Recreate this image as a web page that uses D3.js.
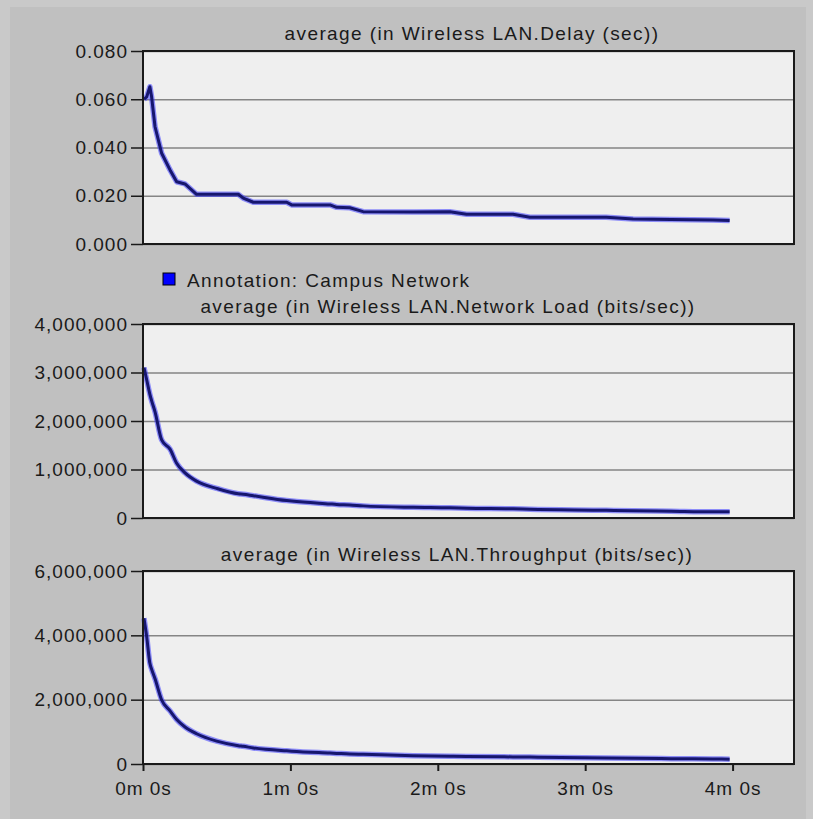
<!DOCTYPE html>
<html>
<head>
<meta charset="utf-8">
<script src="https://cdn.jsdelivr.net/npm/d3@7"></script>
<style>
  body { margin: 0; background: #c9c9c9; }
  svg { display: block; font-family: "Liberation Sans", Arial, sans-serif; }
  .chartText { fill: #1a1a1a; font-size: 19px; letter-spacing: 1px; }
  .titleText { letter-spacing: 1.4px; }
</style>
</head>
<body>
<div id="chart"></div>
<script>
var svgWidth = 813;
var svgHeight = 819;

// simulation time of each sample (seconds)
var timeSec = [0.4, 1.5, 2.8, 3.5, 4.9, 7.6, 11, 13.7, 17.1, 21.8, 30, 38.8, 40.8, 44.9,
  58.5, 60.5, 76.1, 78.8, 84.2, 89.6, 110, 124.9, 131.7, 150.6, 157.5, 188.6, 199.5, 215, 232, 238.8];

// average (in Wireless LAN.Delay (sec))
var delayValues = [0.060, 0.061, 0.0652, 0.061, 0.0486, 0.0376, 0.0307, 0.0258, 0.0249, 0.0206, 0.0206,
  0.0206, 0.019, 0.0173, 0.0173, 0.0162, 0.0162, 0.0152, 0.0150, 0.0134, 0.0133, 0.0134, 0.0123,
  0.0123, 0.0111, 0.0111, 0.0104, 0.0102, 0.0099, 0.0097];

// average (in Wireless LAN.Network Load (bits/sec))
var loadValues = [3100000, 2850000, 2550000, 2420000, 2190000, 1610000, 1420000, 1130000, 930000, 760000,
  610000, 500000, 490000, 460000, 360000, 350000, 290000, 280000, 270000, 250000, 220000, 210000,
  200000, 190000, 180000, 160000, 150000, 140000, 130000, 130000];

// average (in Wireless LAN.Throughput (bits/sec))
var throughputValues = [4530000, 3960000, 3130000, 2950000, 2650000, 1990000, 1650000, 1380000, 1150000,
  940000, 710000, 570000, 550000, 500000, 410000, 400000, 340000, 330000, 310000, 300000, 260000,
  240000, 235000, 220000, 215000, 190000, 180000, 165000, 155000, 150000];

var delayTicks = [0, 0.02, 0.04, 0.06, 0.08];
var loadTicks = [0, 1000000, 2000000, 3000000, 4000000];
var throughputTicks = [0, 2000000, 4000000, 6000000];
var timeTicks = [0, 60, 120, 180, 240];
var timeLabels = ["0m 0s", "1m 0s", "2m 0s", "3m 0s", "4m 0s"];

var panelTitles = [
  "average (in Wireless LAN.Delay (sec))",
  "average (in Wireless LAN.Network Load (bits/sec))",
  "average (in Wireless LAN.Throughput (bits/sec))"
];
var annotationLabel = "Annotation: Campus Network";

var plotLeft = 143;
var plotRight = 794;

var svg = d3.select("#chart")
  .append("svg")
  .attr("width", svgWidth)
  .attr("height", svgHeight);

// grey window panel
svg.append("rect")
  .attr("x", 10)
  .attr("y", 7)
  .attr("width", 796)
  .attr("height", svgHeight - 7)
  .attr("fill", "#c0c0c0");

// shared time scale
var xScale = d3.scaleLinear()
  .domain([0, 265])
  .range([plotLeft, plotRight]);

function drawPanel(opts) {
  var yScale = d3.scaleLinear()
    .domain([0, opts.ticks[opts.ticks.length - 1]])
    .range([opts.bottom, opts.top]);

  var g = svg.append("g");

  // plot background
  g.append("rect")
    .attr("x", plotLeft)
    .attr("y", opts.top)
    .attr("width", plotRight - plotLeft)
    .attr("height", opts.bottom - opts.top)
    .attr("fill", "#efefef");

  // gridlines
  var grid = g.append("g")
    .attr("transform", `translate(${plotLeft}, 0)`)
    .call(d3.axisLeft(yScale).tickValues(opts.ticks).tickSize(-(plotRight - plotLeft)).tickFormat(""));
  grid.select(".domain").remove();
  grid.selectAll("line").attr("stroke", "#858585").attr("stroke-width", 1.5);

  var line = d3.line()
    .x((d, i) => xScale(timeSec[i]))
    .y(d => yScale(d))
    .curve(opts.curve);

  // soft blue halo, then dark core
  g.append("path")
    .datum(opts.values)
    .attr("d", line)
    .attr("fill", "none")
    .attr("stroke", "#3c3cff")
    .attr("stroke-opacity", 0.55)
    .attr("stroke-width", 5.5)
    .attr("stroke-linejoin", "round");

  g.append("path")
    .datum(opts.values)
    .attr("d", line)
    .attr("fill", "none")
    .attr("stroke", "#16166e")
    .attr("stroke-width", 3)
    .attr("stroke-linejoin", "round");

  // frame
  g.append("rect")
    .attr("x", plotLeft)
    .attr("y", opts.top)
    .attr("width", plotRight - plotLeft)
    .attr("height", opts.bottom - opts.top)
    .attr("fill", "none")
    .attr("stroke", "#1a1a1a")
    .attr("stroke-width", 2);

  // y axis
  var yAxis = g.append("g")
    .attr("transform", `translate(${plotLeft}, 0)`)
    .call(d3.axisLeft(yScale).tickValues(opts.ticks).tickSize(12).tickPadding(3).tickFormat(opts.format));
  yAxis.select(".domain").remove();
  yAxis.attr("font-size", null).attr("font-family", null);
  yAxis.selectAll("line").attr("stroke", "#1a1a1a").attr("stroke-width", 1.5);
  yAxis.selectAll("text").classed("chartText", true).attr("fill", null);

  // title
  svg.append("text")
    .classed("chartText", true)
    .classed("titleText", true)
    .attr("x", opts.titleX)
    .attr("y", opts.titleY)
    .attr("text-anchor", "middle")
    .text(opts.title);

  return yScale;
}

drawPanel({
  top: 51, bottom: 244, values: delayValues, ticks: delayTicks,
  format: d3.format(".3f"), title: panelTitles[0], titleX: 472, titleY: 40,
  curve: d3.curveLinear
});

drawPanel({
  top: 324, bottom: 518, values: loadValues, ticks: loadTicks,
  format: d3.format(","), title: panelTitles[1], titleX: 448, titleY: 313,
  curve: d3.curveMonotoneX
});

drawPanel({
  top: 571, bottom: 764, values: throughputValues, ticks: throughputTicks,
  format: d3.format(","), title: panelTitles[2], titleX: 457, titleY: 561,
  curve: d3.curveMonotoneX
});

// annotation legend
svg.append("rect")
  .attr("x", 163)
  .attr("y", 273)
  .attr("width", 12)
  .attr("height", 12)
  .attr("fill", "#0000ff")
  .attr("stroke", "#000")
  .attr("stroke-width", 1);

svg.append("text")
  .classed("chartText", true)
  .classed("titleText", true)
  .attr("x", 187)
  .attr("y", 287)
  .text(annotationLabel);

// time axis under the last panel
var xAxis = svg.append("g")
  .attr("transform", "translate(0, 764)")
  .call(d3.axisBottom(xScale).tickValues(timeTicks).tickSize(7).tickPadding(11)
    .tickFormat((d, i) => timeLabels[i]));
xAxis.select(".domain").remove();
xAxis.attr("font-size", null).attr("font-family", null);
xAxis.selectAll("line").attr("stroke", "#1a1a1a").attr("stroke-width", 2);
xAxis.selectAll("text").classed("chartText", true).attr("fill", null);
</script>
</body>
</html>
